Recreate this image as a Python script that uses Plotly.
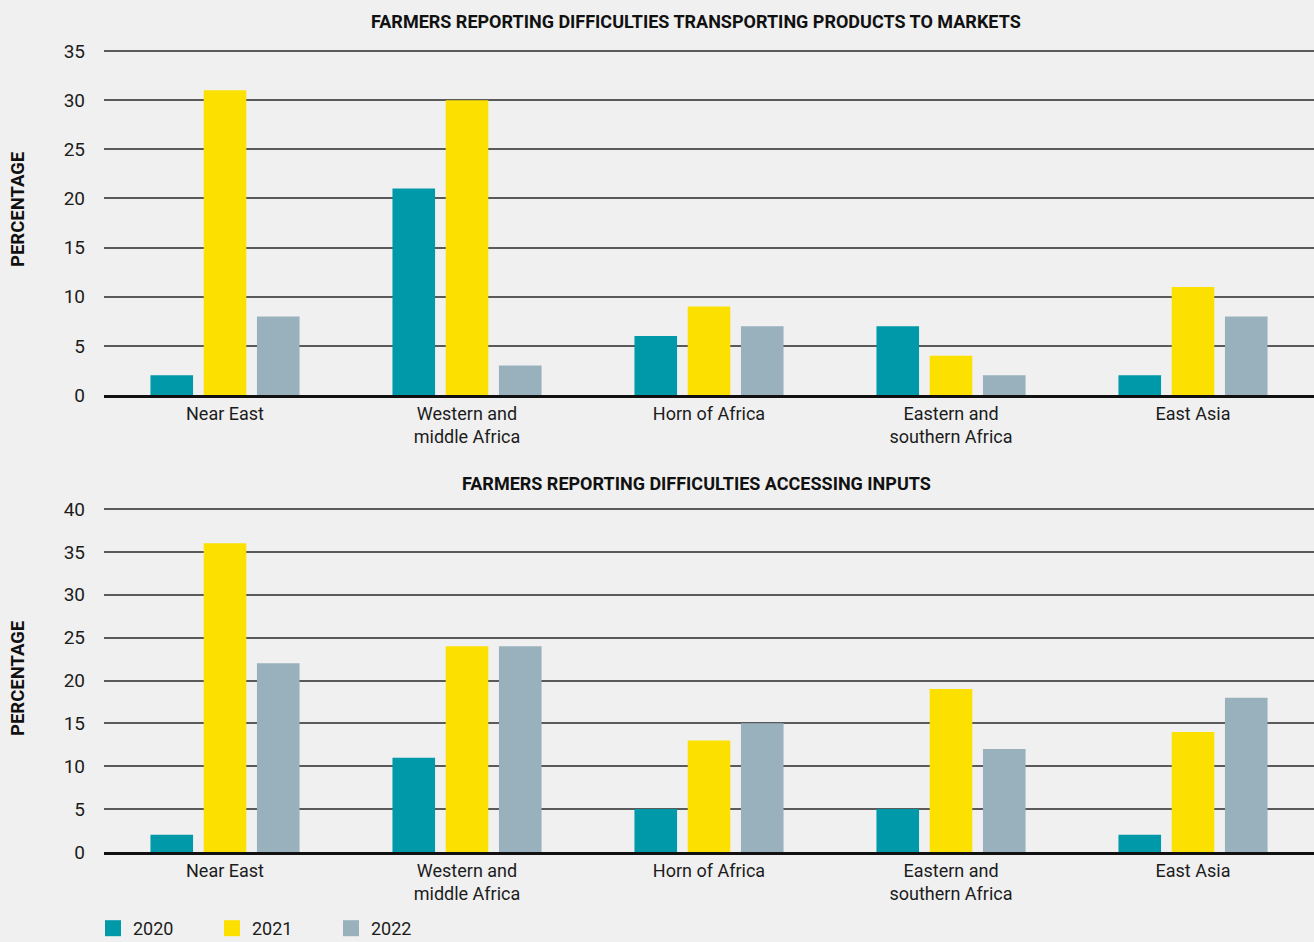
import plotly.graph_objects as go
from plotly.subplots import make_subplots

categories = ["Near East", "Western and<br>middle Africa", "Horn of Africa",
              "Eastern and<br>southern Africa", "East Asia"]
years = ["2020", "2021", "2022"]

transport_2020 = [2, 21, 6, 7, 2]
transport_2021 = [31, 30, 9, 4, 11]
transport_2022 = [8, 3, 7, 2, 8]

inputs_2020 = [2, 11, 5, 5, 2]
inputs_2021 = [36, 24, 13, 19, 14]
inputs_2022 = [22, 24, 15, 12, 18]

colors = ["#0099a9", "#fce100", "#99b0bd"]
title_top = "FARMERS REPORTING DIFFICULTIES TRANSPORTING PRODUCTS TO MARKETS"
title_bottom = "FARMERS REPORTING DIFFICULTIES ACCESSING INPUTS"

W, H = 1314, 942
FONT = "Roboto"
TXT = "#1c1c1c"

fig = make_subplots(rows=2, cols=1)

top_series = [transport_2020, transport_2021, transport_2022]
bot_series = [inputs_2020, inputs_2021, inputs_2022]
for i, y in enumerate(years):
    fig.add_trace(go.Bar(x=categories, y=top_series[i], name=y,
                         marker=dict(color=colors[i], line=dict(width=0)),
                         legendgroup=y, showlegend=False), row=1, col=1)
    fig.add_trace(go.Bar(x=categories, y=bot_series[i], name=y,
                         marker=dict(color=colors[i], line=dict(width=0)),
                         legendgroup=y, showlegend=False), row=2, col=1)
    # legend swatch
    fig.add_trace(go.Scatter(x=[None], y=[None], mode="markers", name=y,
                             marker=dict(symbol="square", size=19, color=colors[i]),
                             legendgroup=y, showlegend=True), row=1, col=1)

def py(px):
    return (H - px) / H

# top plot: 0 at px 395, 35 at px 51 ; extend range slightly so the top grid line shows
top_max = 35.15
top_ppu = (395 - 51) / 35
bot_max = 40.15
bot_ppu = (852 - 509) / 40

xl = 104 / W
axis_x = dict(domain=[xl, 1], showgrid=False, showline=True, linecolor="#111111",
              linewidth=3, ticks="", tickfont=dict(size=18, color=TXT))
axis_y = dict(dtick=5, showgrid=True, gridcolor="#5a5a5a", gridwidth=1.5,
              zeroline=False, showline=False, ticks="", ticklabelstandoff=18,
              tickfont=dict(size=19, color=TXT))

fig.update_layout(
    width=W, height=H,
    margin=dict(l=0, r=0, t=0, b=0, autoexpand=False),
    paper_bgcolor="#f0f0f0", plot_bgcolor="#f0f0f0",
    barmode="group", bargap=0.34, bargroupgap=0.2,
    font=dict(family=FONT, size=18, color=TXT),
    xaxis=dict(axis_x, anchor="y"),
    xaxis2=dict(axis_x, anchor="y2"),
    yaxis=dict(axis_y, domain=[py(395), py(395 - top_max * top_ppu)], range=[0, top_max]),
    yaxis2=dict(axis_y, domain=[py(852), py(852 - bot_max * bot_ppu)], range=[0, bot_max]),
    legend=dict(orientation="h", x=93 / W, xanchor="left", y=py(910), yanchor="top",
                bgcolor="rgba(0,0,0,0)", font=dict(size=18, color=TXT),
                entrywidth=74, entrywidthmode="pixels", traceorder="normal",
                itemsizing="trace"),
    annotations=[
        dict(text="<b>" + title_top + "</b>", xref="paper", yref="paper",
             x=696 / W, y=py(22), xanchor="center", yanchor="middle",
             showarrow=False, font=dict(size=18, color="#111111")),
        dict(text="<b>" + title_bottom + "</b>", xref="paper", yref="paper",
             x=696 / W, y=py(483), xanchor="center", yanchor="middle",
             showarrow=False, font=dict(size=18, color="#111111")),
        dict(text="<b>PERCENTAGE</b>", xref="paper", yref="paper",
             x=18 / W, y=py(210), xanchor="center", yanchor="middle", textangle=-90,
             showarrow=False, font=dict(size=18.5, color="#111111")),
        dict(text="<b>PERCENTAGE</b>", xref="paper", yref="paper",
             x=18 / W, y=py(679), xanchor="center", yanchor="middle", textangle=-90,
             showarrow=False, font=dict(size=18.5, color="#111111")),
    ],
)
fig.update_xaxes(range=[-0.5, 4.5])

fig.write_html("out.html",
               config={"displayModeBar": False},
               post_script="document.body.style.margin='0';"
                           "document.body.style.background='#f0f0f0';"
                           "document.body.style.overflow='hidden';")
